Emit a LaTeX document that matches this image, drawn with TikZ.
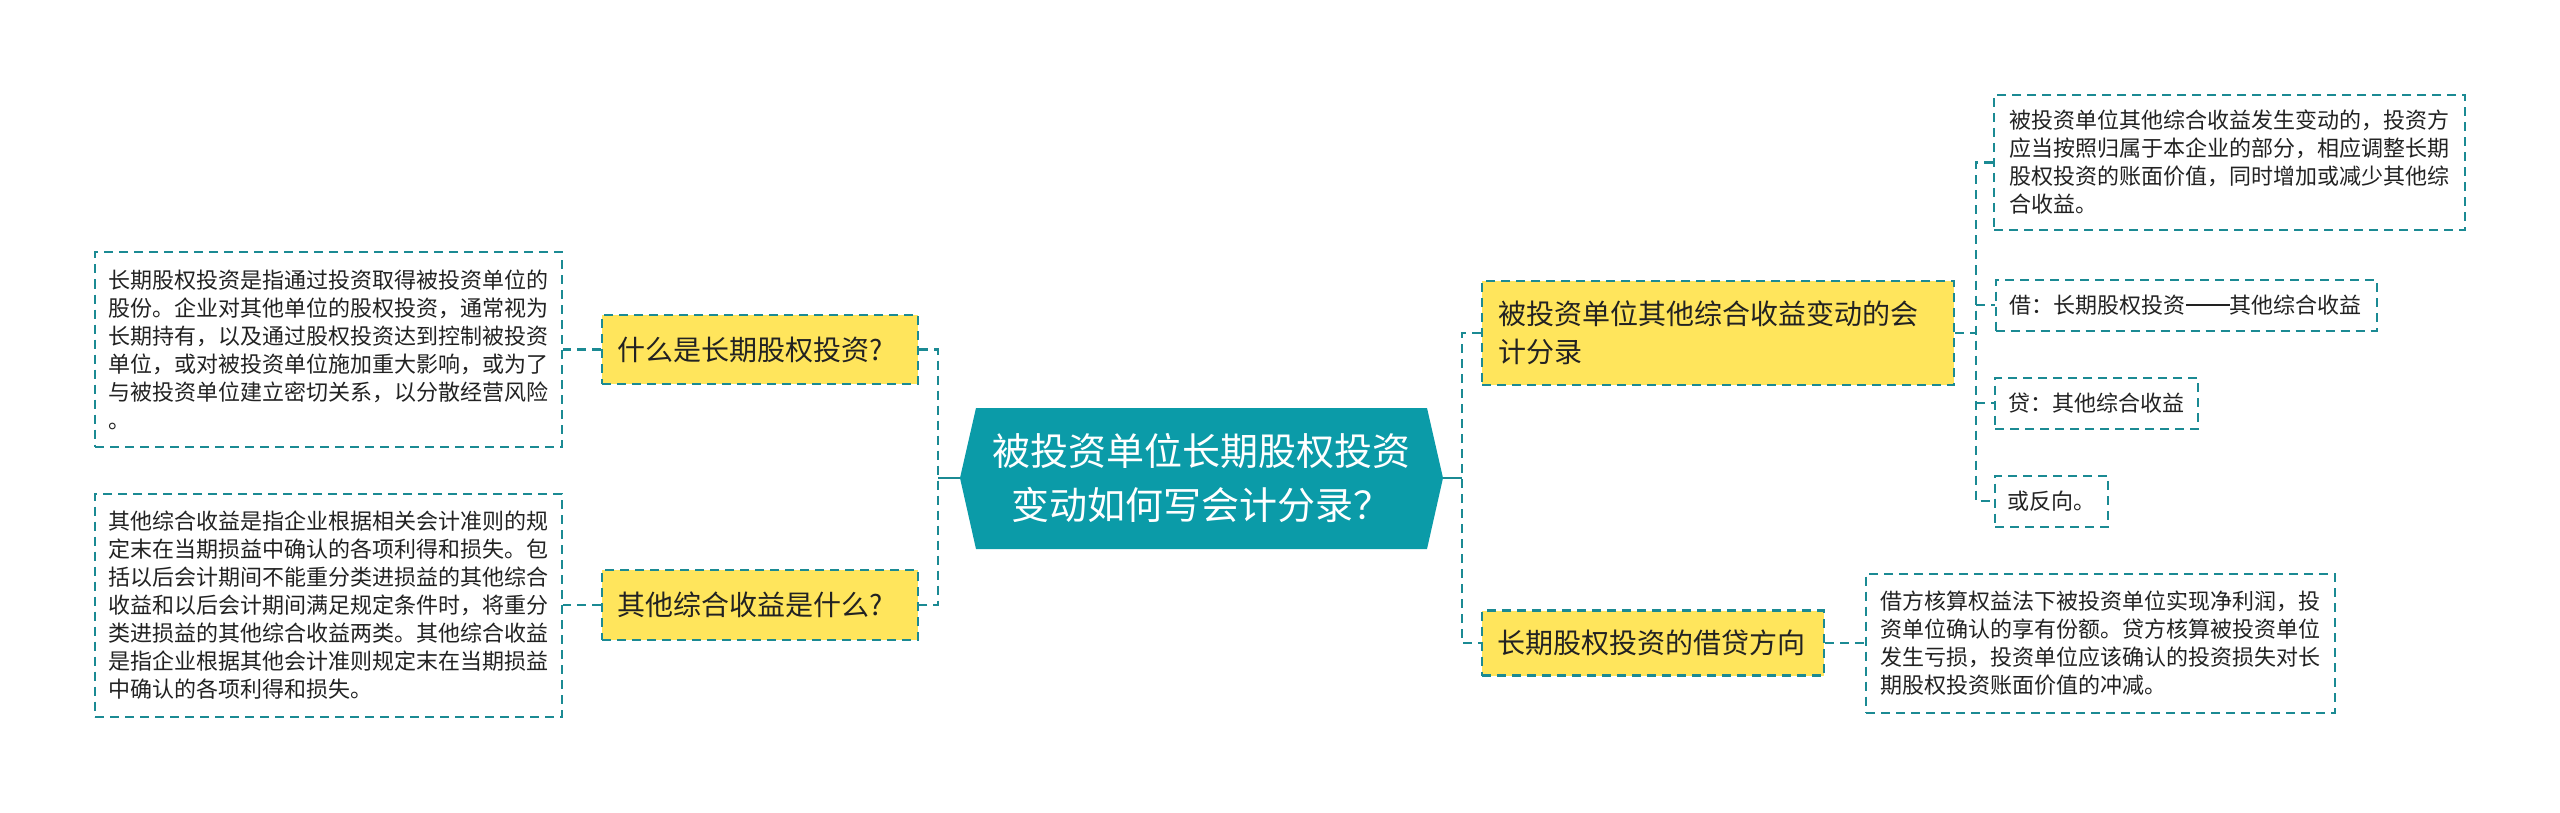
\documentclass[tikz,border=0pt]{standalone}
\usepackage{fontspec}
\setmainfont{Noto Sans CJK SC}
\definecolor{teal1}{HTML}{0B9BA8}
\definecolor{lineC}{HTML}{1B8A93}
\definecolor{yel}{HTML}{FFE55C}
\definecolor{txt}{HTML}{222222}
\newcommand{\longdash}{\rule[0.34em]{2em}{1.5pt}}
\tikzset{
  conn/.style={draw=lineC, line width=2.4pt, dash pattern=on 9pt off 6pt},
  solidconn/.style={draw=lineC, line width=2.4pt},
  topic/.style={rectangle, fill=yel, draw=lineC, line width=2.4pt, dash pattern=on 9pt off 6pt,
     inner sep=0pt, align=left, text=txt, font=\fontsize{28pt}{37.5pt}\selectfont},
  leaf/.style={rectangle, fill=white, draw=lineC, line width=2pt, dash pattern=on 9pt off 6pt,
     inner sep=0pt, align=left, text=txt, font=\fontsize{22pt}{28pt}\selectfont},
}
\begin{document}
\begin{tikzpicture}[x=1pt,y=-1pt]
\useasboundingbox[fill=white] (0,0) rectangle (2560,813);

% central hexagon
\fill[teal1] (960,478) -- (976,408) -- (1427,408) -- (1443,478) -- (1427,549) -- (976,549) -- cycle;
\node[text=white, align=center, font=\fontsize{38pt}{54pt}\selectfont, inner sep=0pt] (root) at (1201,478)
  {被投资单位长期股权投资\\变动如何写会计分录？};
\coordinate (rootL) at (960,478);
\coordinate (rootR) at (1443,478);
\coordinate (jl) at (938,478);
\coordinate (jr) at (1462,478);
\coordinate (jc) at (1976,333);

% left topics
\node[topic, minimum width=316pt, minimum height=69pt, text width=286pt] (A) at (760,349.5) {什么是长期股权投资?};
\node[topic, minimum width=316pt, minimum height=70pt, text width=286pt] (B) at (760,605) {其他综合收益是什么?};

% left leaves
\node[leaf, minimum width=467pt, minimum height=194pt, text width=441pt] (LA) at (328.5,349.5)
  {长期股权投资是指通过投资取得被投资单位的\\股份。企业对其他单位的股权投资，通常视为\\长期持有，以及通过股权投资达到控制被投资\\单位，或对被投资单位施加重大影响，或为了\\与被投资单位建立密切关系，以分散经营风险\\。};
\node[leaf, minimum width=467pt, minimum height=223pt, text width=441pt] (LB) at (328.5,605)
  {其他综合收益是指企业根据相关会计准则的规\\定末在当期损益中确认的各项利得和损失。包\\括以后会计期间不能重分类进损益的其他综合\\收益和以后会计期间满足规定条件时，将重分\\类进损益的其他综合收益两类。其他综合收益\\是指企业根据其他会计准则规定末在当期损益\\中确认的各项利得和损失。};

% right topics
\node[topic, minimum width=472pt, minimum height=104pt, text width=440pt] (C) at (1718,333) {被投资单位其他综合收益变动的会\\计分录};
\node[topic, minimum width=342pt, minimum height=65pt, text width=312pt] (D) at (1653,643) {长期股权投资的借贷方向};

% right leaves
\node[leaf, minimum width=471pt, minimum height=135pt, text width=441pt] (C1) at (2229.5,162.5)
  {被投资单位其他综合收益发生变动的，投资方\\应当按照归属于本企业的部分，相应调整长期\\股权投资的账面价值，同时增加或减少其他综\\合收益。};
\node[leaf, minimum width=381pt, minimum height=51pt, text width=353pt] (C2) at (2186,305) {借：长期股权投资\longdash 其他综合收益};
\node[leaf, minimum width=203pt, minimum height=51pt, text width=177pt] (C3) at (2096.5,403) {贷：其他综合收益};
\node[leaf, minimum width=113pt, minimum height=51pt, text width=89pt] (C4) at (2051.5,501) {或反向。};
\node[leaf, minimum width=469pt, minimum height=139pt, text width=441pt] (D1) at (2100.5,643)
  {借方核算权益法下被投资单位实现净利润，投\\资单位确认的享有份额。贷方核算被投资单位\\发生亏损，投资单位应该确认的投资损失对长\\期股权投资账面价值的冲减。};

% connectors
\draw[solidconn] (rootL) -- (jl);
\draw[solidconn] (rootR) -- (jr);
\draw[conn] (A.east) -- (jl |- A.east) -- (jl |- B.east) -- (B.east);
\draw[conn] (C.west) -- (jr |- C.west) -- (jr |- D.west) -- (D.west);
\draw[conn] (A.west) -- (LA.east);
\draw[conn] (B.west) -- (LB.east);
\draw[conn] (C.east) -- (jc);
\draw[conn] (C1.west) -- (jc |- C1.west) -- (jc |- C4.west) -- (C4.west);
\draw[conn] (jc |- C2.west) -- (C2.west);
\draw[conn] (jc |- C3.west) -- (C3.west);
\draw[conn] (D.east) -- (D1.west);
\end{tikzpicture}
\end{document}
